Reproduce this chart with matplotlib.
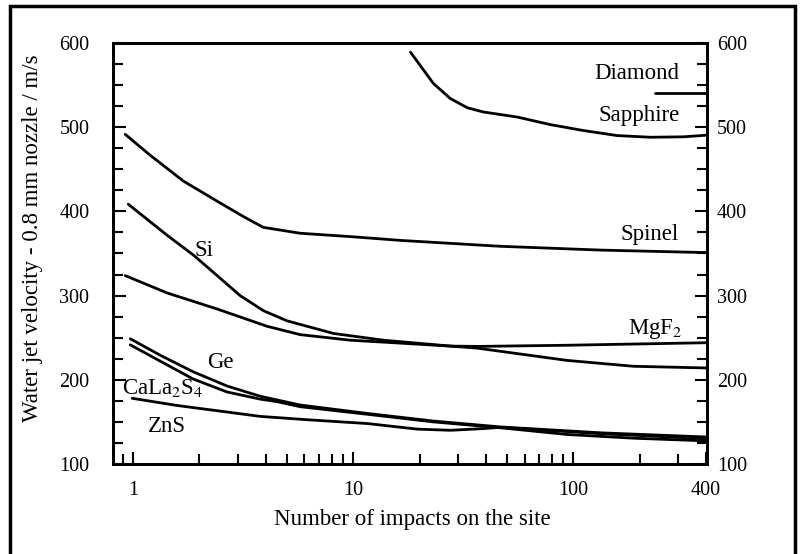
import numpy as np
import matplotlib
matplotlib.use('Agg')
import matplotlib.pyplot as plt
from matplotlib.ticker import MultipleLocator, FixedLocator, NullFormatter
from matplotlib.patches import Rectangle

plt.rcParams['font.family'] = ['Liberation Serif', 'DejaVu Serif']
plt.rcParams['mathtext.fontset'] = 'stix'

# values (impacts, velocity m/s)
sapphire_x = [18.2, 23.1, 27.6, 33.0, 39.0, 55.6, 78.6, 111, 158, 224, 316, 405]
sapphire_y = [589, 552, 534, 523, 518, 512, 503, 496, 490, 488, 488.5, 490.5]

diamond_x = [236, 405]
diamond_y = [540, 540]

spinel_x = [0.92, 1.19, 1.69, 2.41, 3.16, 3.90, 5.74, 9.69, 16.4, 46.6, 133, 405]
spinel_y = [491.5, 467, 436, 412, 394, 381, 374, 370, 365.5, 358.5, 354, 351]

si_x = [0.95, 1.42, 1.88, 2.40, 3.06, 3.91, 5.0, 8.13, 13.7, 27.6, 36.5, 93.6, 188, 405]
si_y = [408.5, 372, 348, 324, 300, 282, 270, 255, 247, 240, 237.6, 223, 216, 214]

mgf2_x = [0.92, 1.43, 2.41, 4.06, 5.74, 9.69, 27.6, 36.6, 94, 405]
mgf2_y = [323.7, 303, 284, 263.5, 253.6, 247, 240, 239.6, 241, 244]

ge_x = [0.97, 1.33, 1.87, 2.67, 3.78, 5.74, 11.6, 23.1, 46.6, 133, 405]
ge_y = [248.7, 229, 209.6, 192.6, 180.4, 170, 160, 151, 144, 137, 132]

cala_x = [0.97, 1.33, 1.87, 2.67, 3.78, 4.51, 5.74, 11.6, 23.1, 46.6, 94, 188, 405]
cala_y = [241.5, 222, 201, 185.5, 177, 174, 168, 159, 150, 143, 135, 130.6, 127.4]

zns_x = [0.99, 1.58, 2.67, 3.78, 6.38, 11.6, 19.5, 27.6, 39, 46.6, 133, 405]
zns_y = [178, 169.5, 161.7, 156.5, 152.3, 148, 141.4, 140, 142, 143.5, 136, 130]

curves = [(sapphire_x, sapphire_y), (diamond_x, diamond_y), (spinel_x, spinel_y),
          (si_x, si_y), (mgf2_x, mgf2_y), (ge_x, ge_y), (cala_x, cala_y),
          (zns_x, zns_y)]

fig = plt.figure(figsize=(8.05, 5.54), dpi=100)
ax = fig.add_axes([0.1404, 0.1625, 0.7379, 0.76])

for xs, ys in curves:
    ax.plot(xs, ys, color='black', lw=2.0, solid_capstyle='round',
            solid_joinstyle='round')

ax.set_xscale('log')
ax.set_xlim(0.81, 405)
ax.set_ylim(100, 600)

ax.xaxis.set_major_locator(FixedLocator([1, 10, 100, 400]))
ax.set_xticklabels(['1', '10', '100', '400'])
minor = [0.9] + list(range(2, 10)) + list(range(20, 100, 10)) + [200, 300]
ax.xaxis.set_minor_locator(FixedLocator(minor))
ax.xaxis.set_minor_formatter(NullFormatter())
ax.yaxis.set_major_locator(MultipleLocator(100))
ax.yaxis.set_minor_locator(MultipleLocator(25))

ax.tick_params(axis='both', which='both', direction='in', width=1.5, colors='black')
ax.tick_params(axis='both', which='major', length=9)
ax.tick_params(axis='both', which='minor', length=7)
ax.tick_params(axis='x', which='both', top=False, labelsize=14.5, pad=12)
ax.tick_params(axis='y', which='both', right=False, labelsize=14.5, pad=17)

ax2 = ax.twinx()
ax2.set_ylim(100, 600)
ax2.yaxis.set_major_locator(MultipleLocator(100))
ax2.yaxis.set_minor_locator(MultipleLocator(25))
ax2.tick_params(axis='y', which='both', direction='in', width=1.5, labelsize=14.5, pad=7)
ax2.tick_params(axis='y', which='major', length=9)
ax2.tick_params(axis='y', which='minor', length=7)

for a in (ax, ax2):
    for s in a.spines.values():
        s.set_linewidth(2)

fig.text(412 / 805, 1 - 520 / 554, 'Number of impacts on the site',
         fontsize=16.5, ha='center', va='center')
fig.text(33 / 805, 1 - 238 / 554, 'Water jet velocity - 0.8 mm nozzle / m/s',
         fontsize=16.5, ha='center', va='center', rotation=90)

fs = 16.5
ax.text(195, 564, 'Diamond', fontsize=fs, ha='center', va='center')
ax.text(199.5, 514, 'Sapphire', fontsize=fs, ha='center', va='center')
ax.text(221, 372, 'Spinel', fontsize=fs, ha='center', va='center')
ax.text(236, 260, 'MgF$_2$', fontsize=fs, ha='center', va='center')
ax.text(2.10, 353, 'Si', fontsize=fs, ha='center', va='center')
ax.text(2.49, 221, 'Ge', fontsize=fs, ha='center', va='center')
ax.text(0.89, 190, 'CaLa$_2$S$_4$', fontsize=fs, ha='left', va='center')
ax.text(1.43, 144.5, 'ZnS', fontsize=fs, ha='center', va='center')

# outer frame of the scanned figure
fig.add_artist(Rectangle((10 / 805, -0.05), 785 / 805, 1.05 - 6 / 554,
                         transform=fig.transFigure, fill=False, lw=2.5,
                         ec='black', clip_on=False))

plt.savefig('out.png', dpi=100)
